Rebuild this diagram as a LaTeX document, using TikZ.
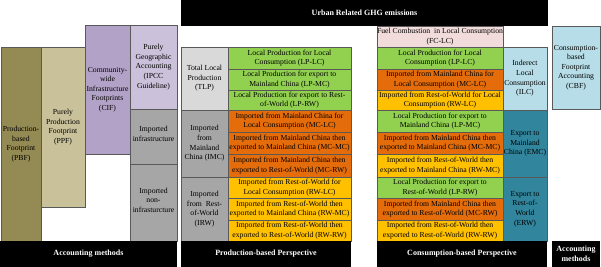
\documentclass[tikz,border=0pt]{standalone}
\usepackage{fontspec}
\setmainfont{Liberation Serif}
\definecolor{pbfolive}{HTML}{948A54}
\definecolor{ppftan}{HTML}{C9C19A}
\definecolor{cifpurple}{HTML}{B3A2C7}
\definecolor{pgalilac}{HTML}{CCC1DA}
\definecolor{impgray}{HTML}{A6A6A6}
\definecolor{tlpgray}{HTML}{D9D9D9}
\definecolor{lpgreen}{HTML}{92D050}
\definecolor{mcorange}{HTML}{E46C0A}
\definecolor{rwyellow}{HTML}{FFC000}
\definecolor{fcpink}{HTML}{F2DCDB}
\definecolor{ilcblue}{HTML}{B7DEE8}
\definecolor{exteal}{HTML}{31859C}
\definecolor{gridline}{HTML}{595959}

\begin{document}
\begin{tikzpicture}[x=1pt, y=-1pt, line width=0.7pt,
  box/.style={draw=gridline},
  lbl/.style={align=center, inner sep=0pt, font=\fontsize{7.7}{9.6}\selectfont},
  head/.style={align=center, inner sep=0pt, text=white, font=\fontsize{8}{10}\selectfont\bfseries}]
  \useasboundingbox (0,0) rectangle (601,267);

  % accounting methods columns
  \filldraw[box, fill=pbfolive] (1,47) rectangle (41,241);
  \node[lbl] (pbf) at (21,144) {Production-\\based\\Footprint\\(PBF)};
  \filldraw[box, fill=ppftan] (41,47) rectangle (85,207);
  \node[lbl] (ppf) at (63,127) {Purely\\Production\\Footprint\\(PPF)};
  \filldraw[box, fill=cifpurple] (85,25) rectangle (130,154);
  \node[lbl] (cif) at (107.5,89.5) {Community-\\wide\\Infrastructure\\Footprints\\(CIF)};
  \filldraw[box, fill=pgalilac] (130,25) rectangle (177,109);
  \node[lbl] (pga) at (153.5,67) {Purely\\Geographic\\Accounting\\(IPCC\\Guideline)};
  \filldraw[box, fill=impgray] (130,109) rectangle (177,164);
  \node[lbl] (impinfra) at (153.5,134) {Imported\\infrastructure};
  \filldraw[box, fill=impgray] (130,164) rectangle (177,241);
  \node[lbl] (impnon) at (153.5,200) {Imported\\non-\\infrasturcture};
  \fill[black] (0,241) rectangle (177,267);
  \node[head] (accleft) at (88.5,254) {Accounting methods};

  % urban related ghg emissions
  \fill[black] (181,0) rectangle (548,26);
  \node[head] (ghg) at (364.5,13) {Urban Related GHG emissions};

  % production-based perspective
  \filldraw[box, fill=tlpgray] (181,47) rectangle (228,110);
  \node[lbl] (tlp) at (204.5,78.5) {Total Local\\Production\\(TLP)};
  \filldraw[box, fill=impgray] (181,110) rectangle (228,177);
  \node[lbl] (imc) at (204.5,143.5) {Imported\\from\\Mainland\\China (IMC)};
  \filldraw[box, fill=impgray] (181,177) rectangle (228,241);
  \node[lbl] (irw) at (204.5,209) {Imported\\from\ \ Rest-\\of-World\\(IRW)};
  \filldraw[box, fill=lpgreen] (228,47) rectangle (351,69);
  \node[lbl] (plplc) at (289.5,58) {Local Production for Local\\Consumption (LP-LC)};
  \filldraw[box, fill=lpgreen] (228,69) rectangle (351,90);
  \node[lbl] (plpmc) at (289.5,79.5) {Local Production for export to\\Mainland China (LP-MC)};
  \filldraw[box, fill=lpgreen] (228,90) rectangle (351,110);
  \node[lbl] (plprw) at (289.5,100) {Local Production for export to Rest-\\of-World (LP-RW)};
  \filldraw[box, fill=mcorange] (228,110) rectangle (351,132);
  \node[lbl] (pmclc) at (289.5,121) {Imported from Mainland China for\\Local Consumption (MC-LC)};
  \filldraw[box, fill=mcorange] (228,132) rectangle (351,154);
  \node[lbl] (pmcmc) at (289.5,143) {Imported from Mainland China then\\exported to Mainland China (MC-MC)};
  \filldraw[box, fill=mcorange] (228,154) rectangle (351,177);
  \node[lbl] (pmcrw) at (289.5,165.5) {Imported from Mainland China then\\exported to Rest-of-World (MC-RW)};
  \filldraw[box, fill=rwyellow] (228,177) rectangle (351,198);
  \node[lbl] (prwlc) at (289.5,187.5) {Imported from Rest-of-World for\\Local Consumption (RW-LC)};
  \filldraw[box, fill=rwyellow] (228,198) rectangle (351,220);
  \node[lbl] (prwmc) at (289.5,209) {Imported from Rest-of-World then\\exported to Mainland China (RW-MC)};
  \filldraw[box, fill=rwyellow] (228,220) rectangle (351,241);
  \node[lbl] (prwrw) at (289.5,230.5) {Imported from Rest-of-World then\\exported to Rest-of-World (RW-RW)};
  \fill[black] (181,241) rectangle (351,267);
  \node[head] (prodpersp) at (266,254) {Production-based Perspective};

  % consumption-based perspective
  \filldraw[box, fill=fcpink] (377,26) rectangle (503,47);
  \node[lbl] (fclc) at (440,36.5) {Fuel Combustion\ \ in Local Consumption\\(FC-LC)};
  \filldraw[box, fill=lpgreen] (377,47) rectangle (503,69);
  \node[lbl] (clplc) at (440,58) {Local Production for Local\\Consumption (LP-LC)};
  \filldraw[box, fill=mcorange] (377,69) rectangle (503,90);
  \node[lbl] (cmclc) at (440,79.5) {Imported from Mainland China for\\Local Consumption (MC-LC)};
  \filldraw[box, fill=rwyellow] (377,90) rectangle (503,110);
  \node[lbl] (crwlc) at (440,100) {Imported from Rest-of-World for Local\\Consumption (RW-LC)};
  \filldraw[box, fill=lpgreen] (377,110) rectangle (503,132);
  \node[lbl] (clpmc) at (440,121) {Local Production for export to\\Mainland China (LP-MC)};
  \filldraw[box, fill=mcorange] (377,132) rectangle (503,154);
  \node[lbl] (cmcmc) at (440,143) {Imported from Mainland China then\\exported to Mainland China (MC-MC)};
  \filldraw[box, fill=rwyellow] (377,154) rectangle (503,177);
  \node[lbl] (crwmc) at (440,165.5) {Imported from Rest-of-World then\\exported to Mainland China (RW-MC)};
  \filldraw[box, fill=lpgreen] (377,177) rectangle (503,198);
  \node[lbl] (clprw) at (440,187.5) {Local Production for export to\\Rest-of-World (LP-RW)};
  \filldraw[box, fill=mcorange] (377,198) rectangle (503,220);
  \node[lbl] (cmcrw) at (440,209) {Imported from Mainland China then\\exported to Rest-of-World (MC-RW)};
  \filldraw[box, fill=rwyellow] (377,220) rectangle (503,241);
  \node[lbl] (crwrw) at (440,230.5) {Imported from Rest-of-World then\\exported to Rest-of-World (RW-RW)};
  \filldraw[box, fill=ilcblue] (503,47) rectangle (547,110);
  \node[lbl] (ilc) at (525,78.5) {Inderect\\Local\\Consumption\\(ILC)};
  \filldraw[box, fill=exteal] (503,110) rectangle (547,177);
  \node[lbl] (emc) at (525,143.5) {Export to\\Mainland\\China (EMC)};
  \filldraw[box, fill=exteal] (503,177) rectangle (547,241);
  \node[lbl] (erw) at (525,209) {Export to\\Rest-of-\\World\\(ERW)};
  \fill[black] (377,241) rectangle (547,267);
  \node[head] (conspersp) at (462,254) {Consumption-based Perspective};

  % consumption-based footprint
  \filldraw[box, fill=ilcblue] (552,26) rectangle (600,109);
  \node[lbl] (cbf) at (576,67.5) {Consumption-\\based\\Footprint\\Accounting\\(CBF)};
  \fill[black] (552,241) rectangle (600,267);
  \node[head] (accright) at (576,254) {Accounting\\methods};
\end{tikzpicture}
\end{document}
